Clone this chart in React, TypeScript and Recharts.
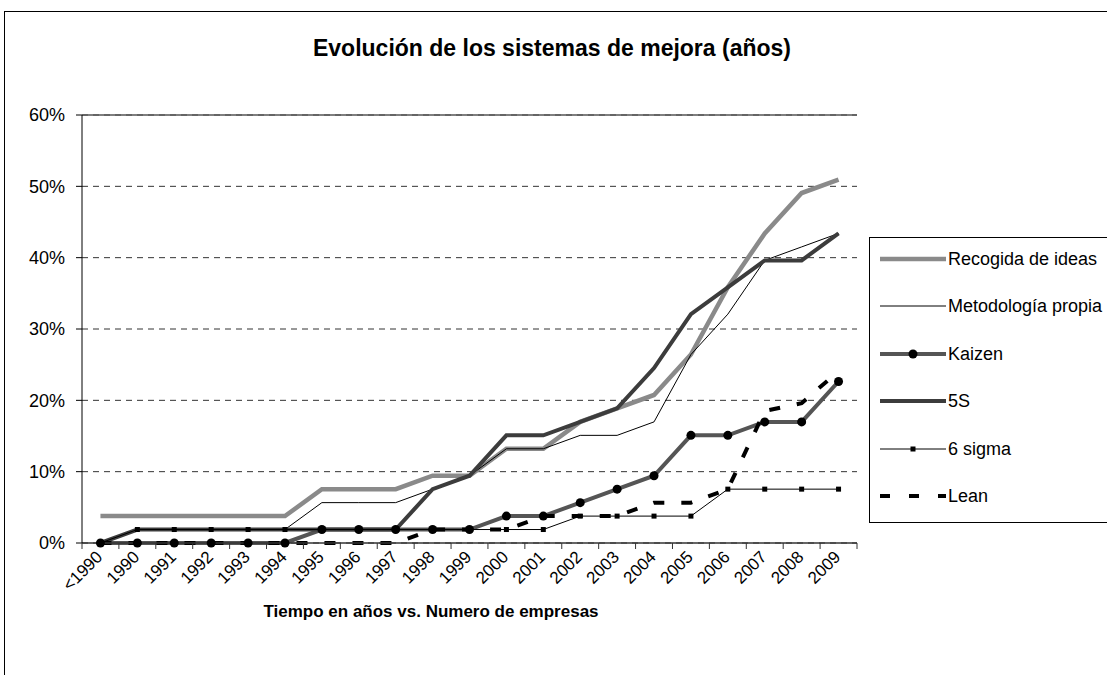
import { LineChart, Line, XAxis, YAxis, CartesianGrid, ReferenceLine, Legend } from "recharts";

const categories = [
  "<1990", "1990", "1991", "1992", "1993", "1994", "1995", "1996", "1997", "1998",
  "1999", "2000", "2001", "2002", "2003", "2004", "2005", "2006", "2007", "2008", "2009",
];

// % de empresas
const recogida = [3.77, 3.77, 3.77, 3.77, 3.77, 3.77, 7.55, 7.55, 7.55, 9.43, 9.43, 13.21, 13.21, 16.98, 18.87, 20.75, 26.42, 35.85, 43.4, 49.06, 50.94];
const metodologia = [0, 1.89, 1.89, 1.89, 1.89, 1.89, 5.66, 5.66, 5.66, 7.55, 9.43, 13.21, 13.21, 15.09, 15.09, 16.98, 26.42, 32.08, 39.62, 41.51, 43.4];
const kaizen = [0, 0, 0, 0, 0, 0, 1.89, 1.89, 1.89, 1.89, 1.89, 3.77, 3.77, 5.66, 7.55, 9.43, 15.09, 15.09, 16.98, 16.98, 22.64];
const cincoS = [0, 1.89, 1.89, 1.89, 1.89, 1.89, 1.89, 1.89, 1.89, 7.55, 9.43, 15.09, 15.09, 16.98, 18.87, 24.53, 32.08, 35.85, 39.62, 39.62, 43.4];
const seisSigma = [0, 1.89, 1.89, 1.89, 1.89, 1.89, 1.89, 1.89, 1.89, 1.89, 1.89, 1.89, 1.89, 3.77, 3.77, 3.77, 3.77, 7.55, 7.55, 7.55, 7.55];
const lean = [0, 0, 0, 0, 0, 0, 0, 0, 0, 1.89, 1.89, 1.89, 3.77, 3.77, 3.77, 5.66, 5.66, 7.55, 18.5, 19.6, 24.1];

const yTicks = [0, 10, 20, 30, 40, 50, 60];

const data = categories.map((c, i) => ({
  year: c,
  recogida: recogida[i],
  metodologia: metodologia[i],
  kaizen: kaizen[i],
  cincoS: cincoS[i],
  seisSigma: seisSigma[i],
  lean: lean[i],
}));

const FONT = "'Liberation Sans', Arial, sans-serif";
const W = 1107;
const H = 675;
const MARGIN = { top: 115, right: 250, bottom: 72, left: 0 };
const Y_W = 82;
const BAND = (W - MARGIN.left - MARGIN.right - Y_W) / categories.length;

// ── Estilos de series ────────────────────────────────────────────────────────
const SERIES = [
  { key: "recogida", name: "Recogida de ideas", color: "#8a8a8a", width: 4.5 },
  { key: "metodologia", name: "Metodología propia", color: "#000", width: 1 },
  { key: "kaizen", name: "Kaizen", color: "#555", width: 4, marker: "circle" },
  { key: "cincoS", name: "5S", color: "#3c3c3c", width: 4 },
  { key: "seisSigma", name: "6 sigma", color: "#000", width: 1, marker: "square" },
  { key: "lean", name: "Lean", color: "#000", width: 4, dash: "11 17" },
];

const CircleDot = (p: any) => <circle key={p.index} cx={p.cx} cy={p.cy} r={4.5} fill="#000" />;
const SquareDot = (p: any) => (
  <rect key={p.index} x={p.cx - 2.5} y={p.cy - 2.5} width={5} height={5} fill="#000" />
);

function YearTick({ x, y, payload, index }: any) {
  const h = BAND / 2;
  return (
    <g>
      <line x1={x - h} x2={x - h} y1={y} y2={y + 6} stroke="#333" />
      {index === categories.length - 1 && (
        <line x1={x + h} x2={x + h} y1={y} y2={y + 6} stroke="#333" />
      )}
      <text
        x={x + 3}
        y={y + 15}
        transform={`rotate(-45 ${x + 3} ${y + 15})`}
        textAnchor="end"
        fontSize={17}
        fontFamily={FONT}
        fill="#000"
      >
        {payload.value}
      </text>
    </g>
  );
}

function LegendBox() {
  return (
    <div
      style={{
        width: 250,
        height: 284,
        border: "1px solid #000",
        background: "#fff",
        position: "relative",
        fontFamily: FONT,
        fontSize: 18,
      }}
    >
      {SERIES.map((s, i) => {
        const cy = 21 + i * 47.4;
        return (
          <div key={s.key} style={{ position: "absolute", left: 0, top: cy - 12, height: 24, width: 260 }}>
            <svg width={80} height={24} style={{ position: "absolute", left: 10, top: 0 }}>
              <line
                x1={0}
                x2={66}
                y1={12}
                y2={12}
                stroke={s.color}
                strokeWidth={s.width}
                strokeDasharray={s.dash ? "10 19" : undefined}
              />
              {s.marker === "circle" && <circle cx={33} cy={12} r={4.5} fill="#000" />}
              {s.marker === "square" && <rect x={30.5} y={9.5} width={5} height={5} fill="#000" />}
            </svg>
            <span style={{ position: "absolute", left: 78, top: 0, lineHeight: "24px", whiteSpace: "nowrap" }}>
              {s.name}
            </span>
          </div>
        );
      })}
    </div>
  );
}

export default function App() {
  return (
    <div style={{ position: "absolute", left: 0, top: 0, width: W, height: H, background: "#fff", overflow: "hidden" }}>
      <div
        style={{
          position: "absolute",
          left: 4,
          top: 11,
          width: W,
          height: H,
          borderLeft: "1.5px solid #000",
          borderTop: "1.5px solid #000",
        }}
      />
      <div
        style={{
          position: "absolute",
          left: 0,
          width: 1104,
          top: 35,
          textAlign: "center",
          fontFamily: FONT,
          fontWeight: "bold",
          fontSize: 23,
        }}
      >
        Evolución de los sistemas de mejora (años)
      </div>
      <div
        style={{
          position: "absolute",
          left: 0,
          width: 862,
          top: 602,
          textAlign: "center",
          fontFamily: FONT,
          fontWeight: "bold",
          fontSize: 17,
        }}
      >
        Tiempo en años vs. Numero de empresas
      </div>
      <div style={{ position: "absolute", left: 0, top: 0 }}>
        <LineChart width={W} height={H} data={data} margin={MARGIN}>
          <CartesianGrid vertical={false} stroke="#333" strokeDasharray="6 5" />
          <XAxis
            dataKey="year"
            scale="band"
            interval={0}
            tickLine={false}
            tickSize={0}
            tickMargin={0}
            axisLine={{ stroke: "#333", strokeWidth: 1.5 }}
            tick={<YearTick />}
            height={60}
          />
          <YAxis
            domain={[0, 60]}
            ticks={yTicks}
            tickFormatter={(v) => `${v}%`}
            width={Y_W}
            tickSize={6}
            tickMargin={11}
            tickLine={{ stroke: "#000" }}
            axisLine={{ stroke: "#000" }}
            tick={{ fontSize: 18, fill: "#000", fontFamily: FONT }}
          />
          <YAxis yAxisId="r" orientation="right" width={0} tick={false} axisLine={{ stroke: "#333", strokeWidth: 1.5 }} />
          <ReferenceLine y={60} stroke="#555" strokeWidth={1.5} />
          {SERIES.map((s) => (
            <Line
              key={s.key}
              dataKey={s.key}
              name={s.name}
              type="linear"
              stroke={s.color}
              strokeWidth={s.width}
              strokeDasharray={s.dash}
              dot={s.marker === "circle" ? <CircleDot /> : s.marker === "square" ? <SquareDot /> : false}
              activeDot={false}
              isAnimationActive={false}
            />
          ))}
          <Legend
            layout="horizontal"
            verticalAlign="middle"
            align="center"
            wrapperStyle={{ left: 869, top: 237, width: 250 }}
            content={() => <LegendBox />}
          />
        </LineChart>
      </div>
    </div>
  );
}
